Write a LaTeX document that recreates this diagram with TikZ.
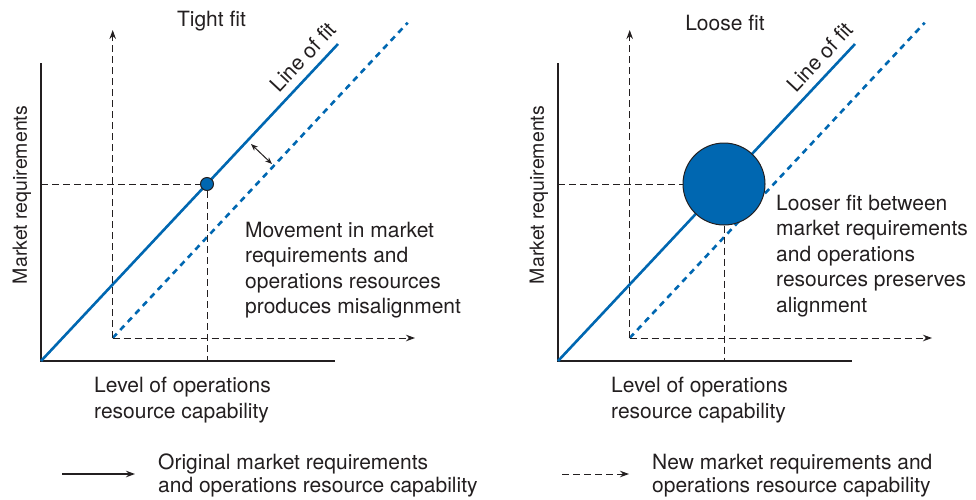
\documentclass[tikz,border=0pt]{standalone}
\usepackage{fontspec}
\setmainfont{TeX Gyre Heros}
\usetikzlibrary{arrows.meta}
\definecolor{fitblue}{HTML}{0067B1}
\definecolor{ink}{HTML}{231F20}
\begin{document}
\begin{tikzpicture}[x=1pt,y=-1pt,
  axis/.style={draw=ink,line width=1.2pt},
  guide/.style={draw=ink,line width=1pt,dash pattern=on 7pt off 4pt},
  fitline/.style={draw=fitblue,line width=2.6pt},
  newline/.style={draw=fitblue,line width=2.6pt,dash pattern=on 6pt off 5pt},
  tip/.style={-{Stealth[length=9pt,width=6.5pt]}},
  dbl/.style={draw=ink,line width=1pt,{Stealth[length=7pt,width=5.5pt]}-{Stealth[length=7pt,width=5.5pt]}},
  dot/.style={circle,fill=fitblue,draw=ink,line width=1pt,inner sep=0pt},
  lbl/.style={font=\fontsize{21}{25.5}\selectfont,align=left,inner sep=0pt,text=ink},
  ylbl/.style={font=\fontsize{19.5}{23}\selectfont,inner sep=0pt,text=ink,rotate=90},
  legtxt/.style={font=\fontsize{21}{23}\selectfont,align=left,inner sep=0pt,text=ink,anchor=west}
]
\useasboundingbox (0,0) rectangle (976,499);

% ---------- left panel: tight fit ----------
\coordinate (L-o) at (41,361);
\coordinate (L-ytop) at (41,63);
\coordinate (L-xend) at (335,361);
\draw[axis] (L-ytop) -- (L-o) -- (L-xend);
\coordinate (L-fitend) at (338,44);
\draw[fitline] (L-o) -- (L-fitend);
\coordinate (L-no) at (112.7,338);
\coordinate (L-nfitend) at (407.7,22.7);
\draw[newline] (L-no) -- (L-nfitend);
\coordinate (L-nytop) at (112.7,30);
\coordinate (L-nxend) at (415,338);
\draw[guide,tip] (L-no) -- (L-nytop);
\draw[guide,tip] (L-no) -- (L-nxend);
\node[dot,minimum size=13pt] (L-pt) at (207,184) {};
\coordinate (L-yref) at (41,184);
\coordinate (L-xref) at (207,361);
\draw[guide] (L-yref) -- (L-pt.west);
\draw[guide] (L-pt.south) -- (L-xref);
\coordinate (L-ma) at (251,144);
\coordinate (L-mb) at (272,164);
\draw[dbl] (L-ma) -- (L-mb);
\node[lbl] (L-title) at (211.5,21) {Tight fit};
\node[lbl,rotate=46.9] (L-lof) at (303,57) {Line of fit};
\node[lbl,anchor=west] (L-note) at (245,270) {Movement in market\\requirements and\\operations resources\\produces misalignment};
\node[ylbl] (L-ylab) at (22,195) {Market requirements};
\node[lbl,anchor=west] (L-xlab) at (94,400) {Level of operations\\resource capability};

% ---------- right panel: loose fit ----------
\coordinate (R-o) at (558,361);
\coordinate (R-ytop) at (558,63);
\coordinate (R-xend) at (852,361);
\draw[axis] (R-ytop) -- (R-o) -- (R-xend);
\coordinate (R-fitend) at (855,44);
\draw[fitline] (R-o) -- (R-fitend);
\coordinate (R-no) at (629.7,338);
\coordinate (R-nfitend) at (924.7,22.7);
\draw[newline] (R-no) -- (R-nfitend);
\coordinate (R-nytop) at (629.7,30);
\coordinate (R-nxend) at (932,338);
\draw[guide,tip] (R-no) -- (R-nytop);
\draw[guide,tip] (R-no) -- (R-nxend);
\node[dot,minimum size=82pt] (R-pt) at (724,184) {};
\coordinate (R-yref) at (558,184);
\coordinate (R-xref) at (724,361);
\draw[guide] (R-yref) -- (R-pt.west);
\draw[guide] (R-pt.south) -- (R-xref);
\node[lbl] (R-title) at (725,23) {Loose fit};
\node[lbl,rotate=46.9] (R-lof) at (820,57) {Line of fit};
\node[lbl,anchor=west] (R-note) at (776,256) {Looser fit between\\market requirements\\and operations\\resources preserves\\alignment};
\node[ylbl] (R-ylab) at (539,195) {Market requirements};
\node[lbl,anchor=west] (R-xlab) at (611,400) {Level of operations\\resource capability};

% ---------- legend ----------
\coordinate (G-a1) at (62,474);
\coordinate (G-b1) at (135,474);
\draw[axis,tip] (G-a1) -- (G-b1);
\node[legtxt] (G-t1) at (158,475.5) {Original market requirements\\and operations resource capability};
\coordinate (G-a2) at (562,474);
\coordinate (G-b2) at (629,474);
\draw[guide,tip] (G-a2) -- (G-b2);
\node[legtxt] (G-t2) at (652,475.5) {New market requirements and\\operations resource capability};
\end{tikzpicture}
\end{document}
